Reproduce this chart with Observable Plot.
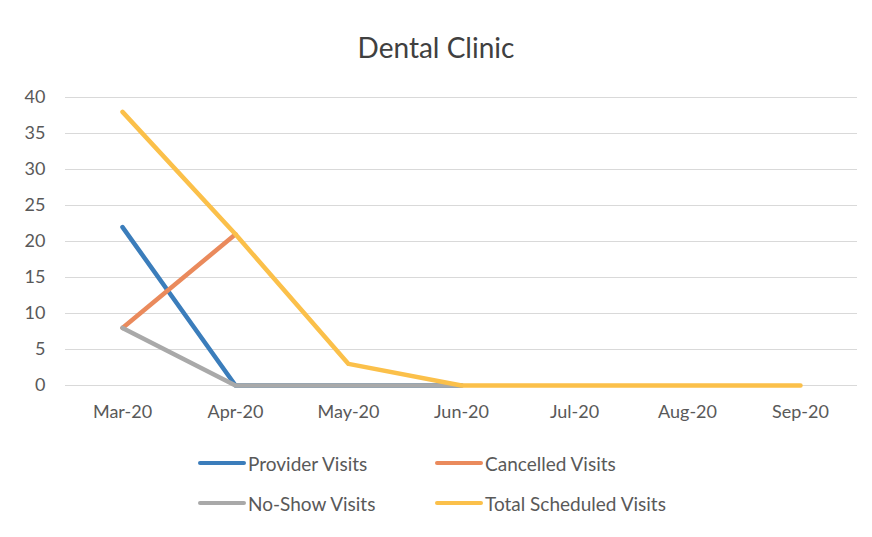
<!DOCTYPE html>
<html>
<head>
<meta charset="utf-8">
<script src="https://cdn.jsdelivr.net/npm/d3@7"></script>
<script src="https://cdn.jsdelivr.net/npm/@observablehq/plot@0.6"></script>
<style>
  html, body { margin: 0; padding: 0; background: #fff; }
  #wrap { width: 872px; height: 537px; position: relative; font-family: Lato, "Open Sans", sans-serif; color: #595959; }
  #title { height: 80px; text-align: center; font-size: 28px; line-height: 94px; color: #404040; }
  #legend { position: absolute; left: 198px; top: 451px; display: grid; grid-template-columns: 237px 300px; row-gap: 16px; font-size: 19px; color: #595959; }
  .item { display: flex; align-items: center; height: 24px; }
  .sw { width: 48px; height: 4px; border-radius: 2px; margin-right: 2px; }
</style>
</head>
<body>
<div id="wrap">
  <div id="title">Dental Clinic</div>
  <div id="chart"></div>
  <div id="legend"></div>
</div>
<script>
const months = ["Mar-20", "Apr-20", "May-20", "Jun-20", "Jul-20", "Aug-20", "Sep-20"];
const providerVisits = [22, 0, 0, 0, null, null, null];
const cancelledVisits = [8, 21, null, null, null, null, null];
const noShowVisits = [8, 0, 0, 0, null, null, null];
const totalScheduledVisits = [38, 21, 3, 0, 0, 0, 0];
const yTicks = [0, 5, 10, 15, 20, 25, 30, 35, 40];

const seriesNames = ["Provider Visits", "Cancelled Visits", "No-Show Visits", "Total Scheduled Visits"];
const seriesValues = [providerVisits, cancelledVisits, noShowVisits, totalScheduledVisits];
const colors = ["#3b7dbb", "#ea8a5c", "#a9a9a9", "#fbc04a"];

const rows = [];
seriesNames.forEach((name, i) => {
  months.forEach((m, j) => rows.push({series: name, month: m, value: seriesValues[i][j]}));
});

const chart = Plot.plot({
  width: 872,
  height: 360,
  marginTop: 17,
  marginBottom: 55,
  marginLeft: 65,
  marginRight: 15,
  style: {fontFamily: "Lato, 'Open Sans', sans-serif", fontSize: "18px", color: "#595959", background: "#fff"},
  x: {type: "point", domain: months, padding: 0.5, label: null},
  y: {domain: [0, 40], ticks: yTicks, label: null},
  color: {domain: seriesNames, range: colors},
  marks: [
    Plot.gridY(yTicks, {stroke: "#d9d9d9", strokeOpacity: 1, strokeWidth: 1}),
    Plot.axisY(yTicks, {tickSize: 0, tickPadding: 20, fontSize: 18, fill: "#595959"}),
    Plot.axisX({tickSize: 0, tickPadding: 20, fontSize: 18, fill: "#595959"}),
    ...seriesNames.map(name => Plot.line(rows.filter(r => r.series === name), {
      x: "month", y: "value", stroke: "series", strokeWidth: 4.5,
      strokeLinecap: "round", strokeLinejoin: "round"
    }))
  ]
});
document.getElementById("chart").appendChild(chart);

const legend = document.getElementById("legend");
seriesNames.forEach((name, i) => {
  const it = document.createElement("div");
  it.className = "item";
  it.innerHTML = `<span class="sw" style="background:${colors[i]}"></span><span>${name}</span>`;
  legend.appendChild(it);
});
</script>
</body>
</html>
